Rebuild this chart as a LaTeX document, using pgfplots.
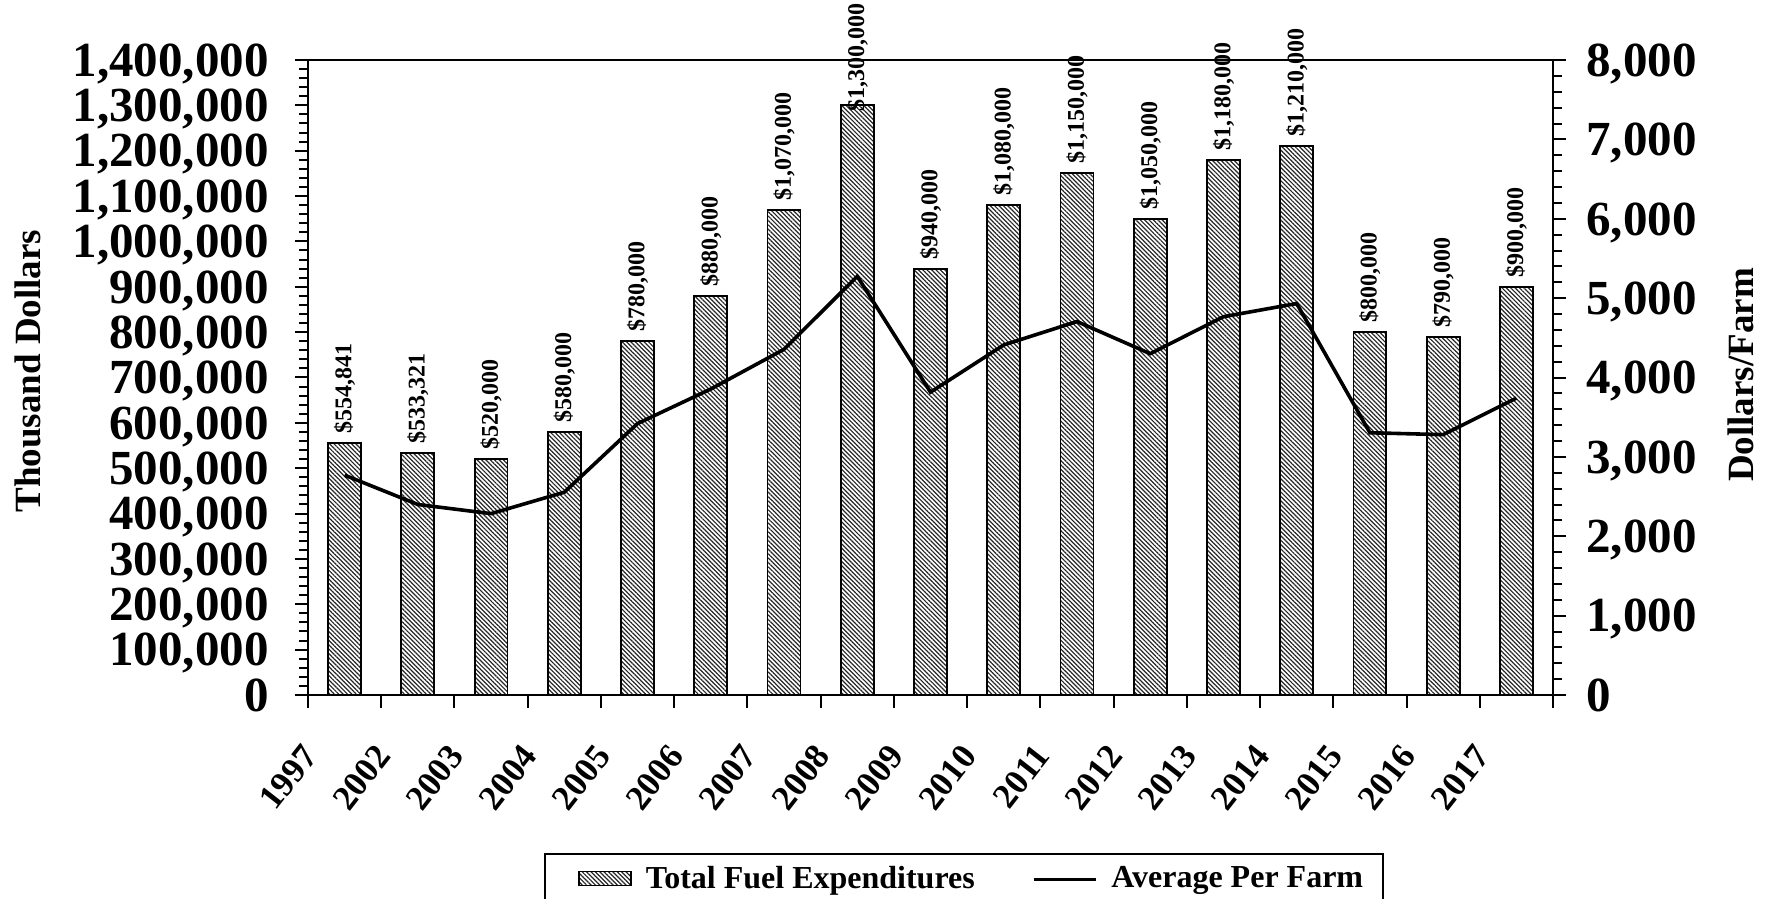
\documentclass[border=0pt]{standalone}
\usepackage{fontspec}
\setmainfont{Liberation Serif}
\usepackage{pgfplots}
\pgfplotsset{compat=1.18}
\usepackage{pgfplotstable}
\usetikzlibrary{patterns.meta}

\pgfplotstableread{
x y lab
0.5 554841 554,841
1.5 533321 533,321
2.5 520000 520,000
3.5 580000 580,000
4.5 780000 780,000
5.5 880000 880,000
6.5 1070000 1,070,000
8.5 940000 940,000
9.5 1080000 1,080,000
10.5 1150000 1,150,000
11.5 1050000 1,050,000
12.5 1180000 1,180,000
13.5 1210000 1,210,000
14.5 800000 800,000
15.5 790000 790,000
16.5 900000 900,000
}\fuellab

\pgfplotstableread{
x y
0.5 554841
1.5 533321
2.5 520000
3.5 580000
4.5 780000
5.5 880000
6.5 1070000
7.5 1300000
8.5 940000
9.5 1080000
10.5 1150000
11.5 1050000
12.5 1180000
13.5 1210000
14.5 800000
15.5 790000
16.5 900000
}\fuel

\pgfplotstableread{
x y
0.5 2770
1.5 2400
2.5 2285
3.5 2555
4.5 3420
5.5 3855
6.5 4355
7.5 5275
8.5 3815
9.5 4410
10.5 4705
11.5 4300
12.5 4766
13.5 4932
14.5 3304
15.5 3280
16.5 3740
}\avg

\tikzset{hatch/.style={pattern={Lines[angle=-45,distance=1.55pt,line width=0.6pt]}, pattern color=black!85}}

\begin{document}
\begin{tikzpicture}
\useasboundingbox (-154pt,-102pt) rectangle (729.5pt,347.5pt);
\begin{axis}[
  at={(0,0)}, anchor=south west,
  scale only axis, width=622.5pt, height=317.5pt,
  xmin=0, xmax=17, ymin=0, ymax=1400000,
  clip=false,
  axis line style={line width=1pt},
  every tick/.style={black, line width=1pt},
  tick align=outside,
  major tick length=6.5pt, minor tick length=4.5pt,
  xtick={0,...,17}, xticklabels={},
  extra x ticks={0.5,1.5,...,16.5},
  extra x tick labels={1997,2002,2003,2004,2005,2006,2007,2008,2009,2010,2011,2012,2013,2014,2015,2016,2017},
  extra x tick style={major tick length=0pt},
  xticklabel style={xshift=-22pt, yshift=-23.5pt, rotate=52, anchor=north east, inner sep=0pt,
    font=\bfseries\fontsize{17.5}{18}\selectfont},
  xtick pos=left, ytick pos=left,
  ytick={0,100000,...,1400000}, minor y tick num=4,
  scaled y ticks=false,
  yticklabel style={/pgf/number format/fixed, /pgf/number format/1000 sep={,},
    /pgf/number format/assume math mode=true, anchor=east, inner sep=0pt, text depth=0pt,
    xshift=-13pt, font=\bfseries\fontsize{24.5}{24}\selectfont},
  ylabel={Thousand Dollars},
  ylabel style={at={(axis description cs:-0.2249,0.51)}, anchor=center,
    font=\bfseries\fontsize{18.5}{20}\selectfont},
]
\addplot[ybar, bar width=0.45, hatch, draw=black, line width=0.9pt] table[x=x, y=y] {\fuel};
\addplot[only marks, mark=none,
  point meta=explicit symbolic,
  nodes near coords={\$\pgfplotspointmeta},
  every node near coord/.append style={yshift=4.5pt, rotate=90, anchor=west, inner sep=0pt,
    font=\bfseries\fontsize{12}{12}\selectfont, black},
] table[x=x, y=y, meta=lab] {\fuellab};
\addplot[only marks, mark=none,
  point meta=explicit symbolic,
  nodes near coords={\$\pgfplotspointmeta},
  every node near coord/.append style={yshift=-3.5pt, rotate=90, anchor=west, inner sep=0pt,
    font=\bfseries\fontsize{12}{12}\selectfont, black},
] coordinates {(7.5,1300000) [1,300,000]};
\end{axis}
\begin{axis}[
  at={(0,0)}, anchor=south west,
  scale only axis, width=622.5pt, height=317.5pt,
  xmin=0, xmax=17, ymin=0, ymax=8000,
  axis y line*=right, axis x line=none,
  axis line style={line width=1pt},
  every tick/.style={black, line width=1pt},
  tick align=outside,
  major tick length=6.5pt, minor tick length=4.5pt,
  ytick={0,1000,...,8000}, minor y tick num=4,
  yticklabel style={/pgf/number format/fixed, /pgf/number format/1000 sep={,},
    /pgf/number format/assume math mode=true, anchor=west, inner sep=0pt, text depth=0pt,
    xshift=10pt, font=\bfseries\fontsize{24.5}{25}\selectfont},
  ylabel={Dollars/Farm},
  ylabel style={at={(axis description cs:1.151,0.504)}, anchor=center,
    font=\bfseries\fontsize{18.5}{20}\selectfont},
  legend columns=2,
  legend style={at={(axis description cs:0.1896,-0.2488)}, anchor=north west,
    draw=black, line width=1pt, inner xsep=10pt, inner ysep=6pt,
    font=\bfseries\fontsize{16}{18}\selectfont,
    nodes={inner xsep=0pt, inner ysep=0pt},
    /tikz/every odd column/.append style={column sep=7pt},
    /tikz/every even column/.append style={column sep=28.5pt}},
]
\addlegendimage{legend image code/.code={\path (0pt,0pt); \draw[hatch, draw=black, line width=0.8pt] (6.5pt,-3.5pt) rectangle (32.5pt,3.5pt);}}
\addlegendentry{Total Fuel Expenditures}
\addplot[black, line width=1.8pt, mark=none,
  legend image code/.code={\draw[line width=1.8pt] (0pt,-0.5pt) -- (31pt,-0.5pt);}] table[x=x, y=y] {\avg};
\addlegendentry{Average Per Farm}
\end{axis}
\end{tikzpicture}
\end{document}
